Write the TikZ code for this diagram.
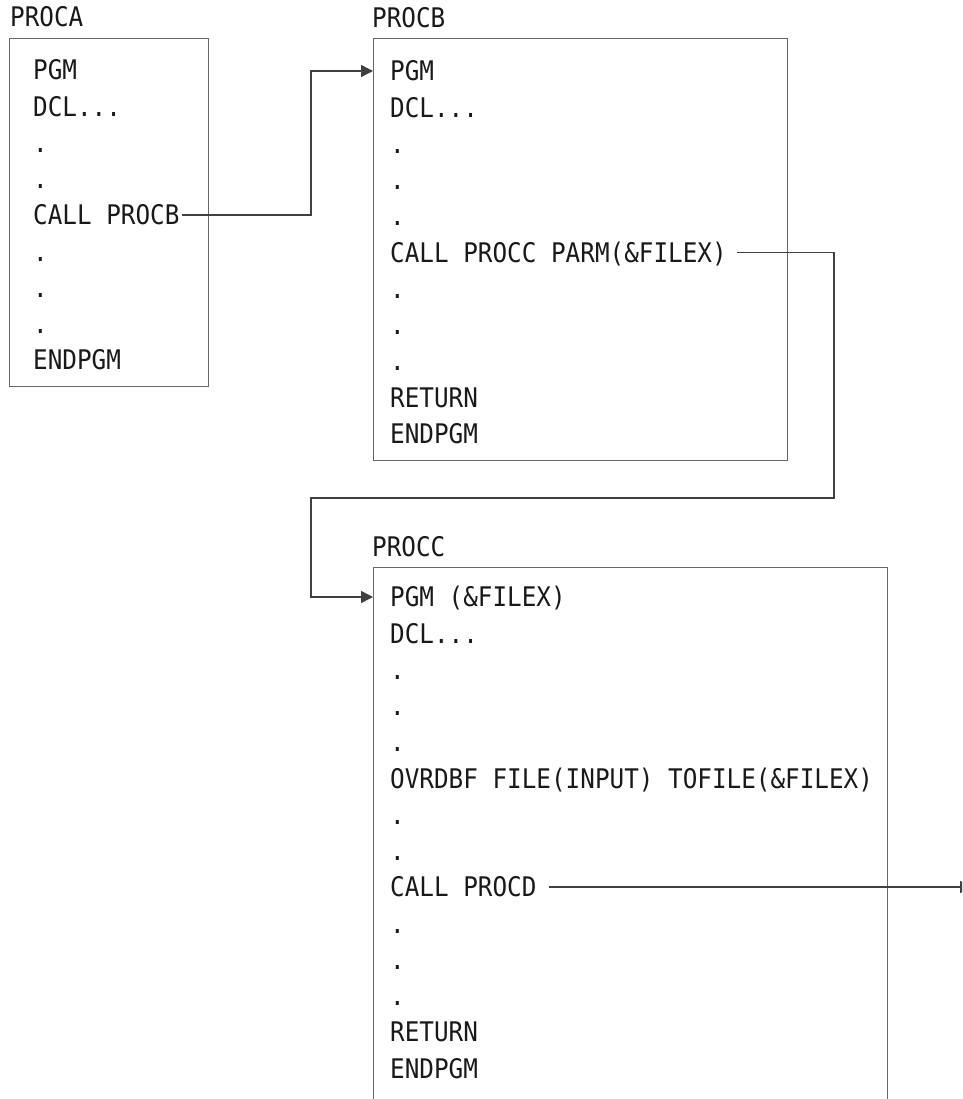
\documentclass[tikz,border=0pt]{standalone}
\usepackage{fontspec}
\setmonofont{DejaVu Sans Mono}[FakeStretch=0.9]
\usetikzlibrary{positioning, arrows.meta}
\tikzset{>={Triangle[length=12pt,width=12pt]}, font=\ttfamily\fontsize{27}{32}\selectfont}
\newcommand\dclline{DCL...}

\begin{document}
\begin{tikzpicture}[x=1pt,y=-1pt]
\tikzstyle{codeline}=[anchor=west,inner sep=0pt,text height=19.7pt,text depth=0pt,text=black!90]
\tikzstyle{procbox}=[draw=black!60,line width=1.4pt,anchor=north west,inner sep=0pt]
\tikzstyle{link}=[->,draw=black!75,line width=1.4pt]

\useasboundingbox (0,0) rectangle (962,1099);
\clip (0,0) rectangle (962,1099);

% PROCA
\node[codeline] (labA) at (10,17) {PROCA};
\node[procbox,minimum width=199pt,minimum height=348pt] (boxA) at (9,38) {};
\foreach \t [count=\i] in {PGM,\dclline,.,.,CALL PROCB,.,.,.,ENDPGM}
  \node[codeline] (a\i) at (33,{70+36.25*(\i-1)}) {\t};

% PROCB
\node[codeline] (labB) at (372,18) {PROCB};
\node[procbox,minimum width=414pt,minimum height=422pt] (boxB) at (373,38) {};
\foreach \t [count=\i] in {PGM,\dclline,.,.,.,CALL PROCC PARM(\&FILEX),.,.,.,RETURN,ENDPGM}
  \node[codeline] (b\i) at (390,{71+36.25*(\i-1)}) {\t};

% PROCC (runs past the bottom)
\node[codeline] (labC) at (372,547) {PROCC};
\node[procbox,minimum width=514pt,minimum height=600pt] (boxC) at (373,567) {};
\foreach \t [count=\i] in {PGM (\&FILEX),\dclline,.,.,.,OVRDBF FILE(INPUT) TOFILE(\&FILEX),.,.,CALL PROCD,.,.,.,RETURN,ENDPGM}
  \node[codeline] (c\i) at (390,{597+36.25*(\i-1)}) {\t};

% calls
\coordinate (jab) at (311,0);
\coordinate (jbc) at (834,498);
\coordinate (procD) at (972,0);

\draw[link,shorten <=2pt] (a5.east) -| (jab |- b1) -- (b1 -| boxB.west);
\draw[link,shorten <=10pt] (b6.east) -| (jbc) -| (jab |- c1) -- (c1 -| boxC.west);
\draw[link,shorten <=12pt] (c9.east) -- (c9 -| procD);

\end{tikzpicture}
\end{document}
